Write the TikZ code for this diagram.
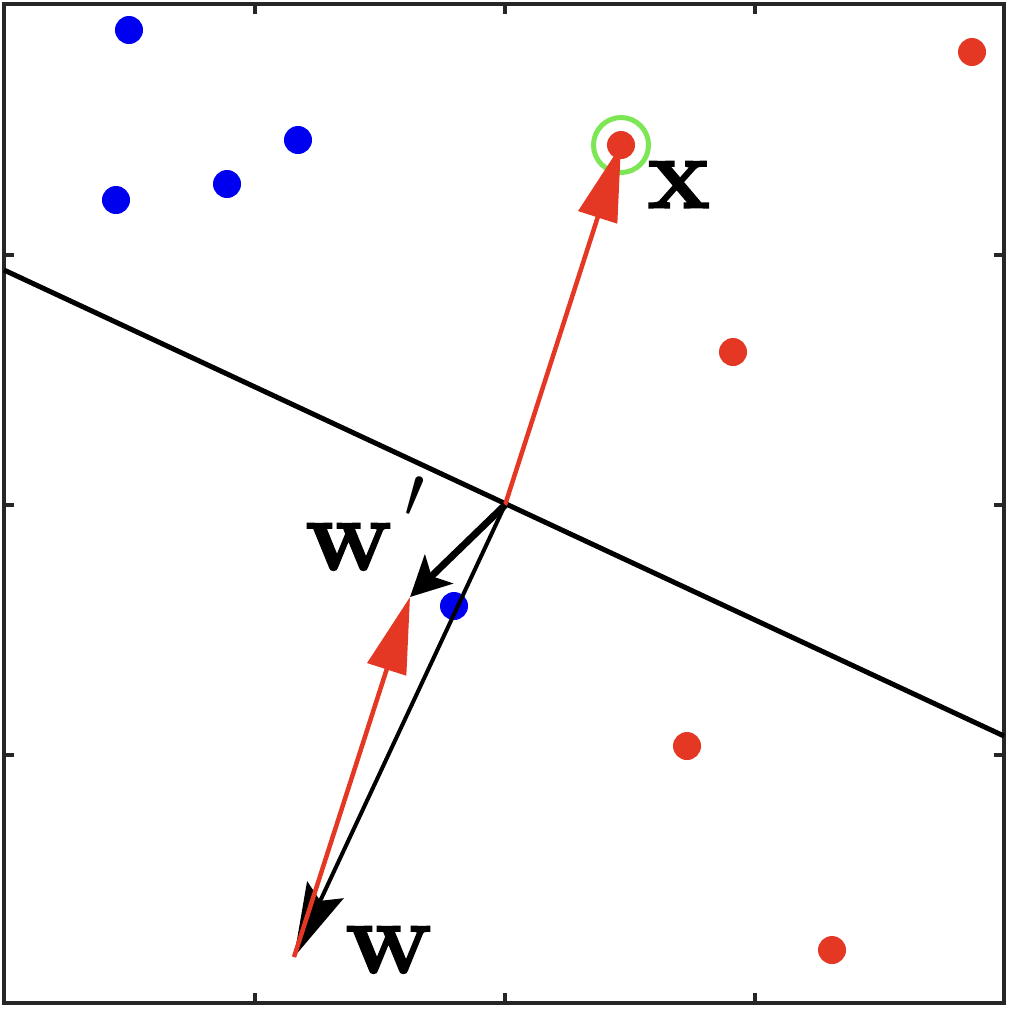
\documentclass[tikz,border=0pt]{standalone}
\usepackage{fontspec}
\usetikzlibrary{arrows.meta}
\newfontfamily\heavyface{lmroman10-bold.otf}[UprightFeatures={FakeBold=1.2}]
\definecolor{ptred}{RGB}{229,56,36}
\definecolor{ptblue}{RGB}{0,0,240}
\definecolor{ptgreen}{RGB}{125,230,85}
\begin{document}
\begin{tikzpicture}[x=0.01cm, y=-0.01cm,
    bluedot/.style={circle, fill=ptblue, inner sep=0pt, minimum size=0.28cm},
    reddot/.style={circle, fill=ptred, inner sep=0pt, minimum size=0.28cm},
    ring/.style={circle, draw=ptgreen, line width=0.05cm, inner sep=0pt, minimum size=0.55cm},
    axis/.style={black!85, line width=0.035cm},
    lbl/.style={font=\fontsize{30}{31}\selectfont\heavyface, inner sep=0pt, anchor=base west}]

    \useasboundingbox (0,0) rectangle (1010,1008);

    % --- Axes box and ticks ---
    \draw[axis] (4,4) rectangle (1004,1003);
    \foreach \t in {255,505,755} {
        \draw[axis] (\t,4) -- (\t,14);
        \draw[axis] (\t,1003) -- (\t,993);
        \draw[axis] (4,\t) -- (14,\t);
        \draw[axis] (1004,\t) -- (994,\t);
    }

    % --- Decision boundary ---
    \draw[line width=0.05cm] (4,270) -- (1004,736);

    % --- Data points ---
    % class -1
    \node[bluedot] (b1) at (129,30) {};
    \node[bluedot] (b2) at (298,140) {};
    \node[bluedot] (b3) at (227,184) {};
    \node[bluedot] (b4) at (116,200) {};
    \node[bluedot] (b5) at (454,606) {};
    % class +1
    \node[reddot] (r1) at (972,52) {};
    \node[reddot] (r2) at (733,352) {};
    \node[reddot] (r3) at (687,746) {};
    \node[reddot] (r4) at (832,950) {};
    % misclassified point
    \node[reddot] (x) at (621,145) {};
    \node[ring] (xring) at (x) {};

    % --- Weight vectors ---
    \coordinate (o) at (505,505);
    \coordinate (w) at (294,957);
    \coordinate (wp) at (410,597);

    % old weight vector
    \draw[line width=0.04cm, -{Stealth[length=0.74cm, width=0.4cm, inset=0.12cm]}] (o) -- (w);
    % x added to w
    \draw[ptred, line width=0.045cm, -{Triangle[length=0.76cm, width=0.4cm]}] (w) -- (wp);
    % the point x
    \draw[ptred, line width=0.045cm, -{Triangle[length=0.76cm, width=0.4cm]}] (o) -- (x.center);
    % new weight vector
    \draw[line width=0.07cm, -{Stealth[length=0.4cm, width=0.4cm, inset=0.1cm]}] (o) -- (wp);

    % --- Labels ---
    \node[lbl] (xlbl) at (646,208) {x};
    \node[lbl] (wlbl) at (344,973) {w};
    \node[lbl] (wplbl) at (304,570) {w\kern3.5pt\raisebox{15pt}{\fontsize{21}{21}\selectfont$\prime$}};

\end{tikzpicture}
\end{document}
